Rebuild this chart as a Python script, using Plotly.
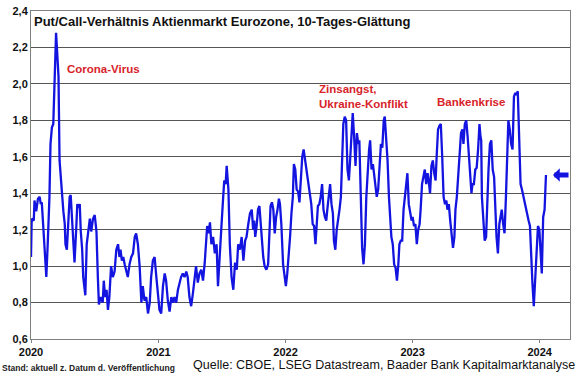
import plotly.graph_objects as go

# ---- data ----
dates = [
    "2020-01-01","2020-01-03","2020-01-09","2020-01-11","2020-01-16","2020-01-21","2020-01-26","2020-01-29",
    "2020-02-01","2020-02-04","2020-02-09","2020-02-14","2020-02-18","2020-02-23","2020-02-26",
    "2020-03-01","2020-03-05","2020-03-09","2020-03-13","2020-03-16","2020-03-20","2020-03-23","2020-03-28","2020-03-30",
    "2020-04-03","2020-04-07","2020-04-09","2020-04-13","2020-04-16","2020-04-21","2020-04-24","2020-04-28",
    "2020-05-01","2020-05-05","2020-05-10","2020-05-13","2020-05-17","2020-05-20","2020-05-23","2020-05-27","2020-05-30",
    "2020-06-05","2020-06-09","2020-06-15","2020-06-18","2020-06-22","2020-06-27",
    "2020-07-02","2020-07-07","2020-07-11","2020-07-14","2020-07-19","2020-07-25","2020-07-28",
    "2020-08-01","2020-08-05","2020-08-09","2020-08-13","2020-08-18","2020-08-23","2020-08-28",
    "2020-09-02","2020-09-07","2020-09-11","2020-09-14","2020-09-18","2020-09-22","2020-09-26",
    "2020-10-01","2020-10-05","2020-10-10","2020-10-15","2020-10-20","2020-10-25","2020-10-29",
    "2020-11-03","2020-11-08","2020-11-13","2020-11-17","2020-11-22","2020-11-27",
    "2020-12-02","2020-12-07","2020-12-11","2020-12-16","2020-12-21","2020-12-26","2020-12-31",
    "2021-01-04","2021-01-09","2021-01-14","2021-01-19","2021-01-23","2021-01-28",
    "2021-02-02","2021-02-07","2021-02-12","2021-02-16","2021-02-21","2021-02-26",
    "2021-03-03","2021-03-07","2021-03-12","2021-03-17","2021-03-22","2021-03-26","2021-03-31",
    "2021-04-05","2021-04-10","2021-04-15","2021-04-19","2021-04-24","2021-04-29",
    "2021-05-04","2021-05-09","2021-05-14","2021-05-18","2021-05-21","2021-05-25","2021-05-29",
    "2021-06-02","2021-06-07","2021-06-12","2021-06-17","2021-06-21","2021-06-26",
    "2021-07-01","2021-07-06","2021-07-09","2021-07-13","2021-07-16","2021-07-21","2021-07-25","2021-07-30",
    "2021-08-04","2021-08-09","2021-08-14","2021-08-18","2021-08-23","2021-08-28",
    "2021-09-02","2021-09-07","2021-09-11","2021-09-16","2021-09-21","2021-09-26","2021-09-30",
    "2021-10-03","2021-10-06","2021-10-10","2021-10-14","2021-10-18","2021-10-22","2021-10-26","2021-10-29",
    "2021-11-02","2021-11-07","2021-11-12","2021-11-16","2021-11-19","2021-11-23","2021-11-27",
    "2021-12-01","2021-12-05","2021-12-09","2021-12-13","2021-12-16","2021-12-20","2021-12-25","2021-12-30",
    "2022-01-02","2022-01-06","2022-01-10","2022-01-14","2022-01-18","2022-01-22","2022-01-25","2022-01-29",
    "2022-02-02","2022-02-06","2022-02-10","2022-02-14","2022-02-18","2022-02-22","2022-02-25",
    "2022-03-01","2022-03-05","2022-03-09","2022-03-13","2022-03-16","2022-03-20","2022-03-24","2022-03-28",
    "2022-04-01","2022-04-04","2022-04-08","2022-04-12","2022-04-16","2022-04-20","2022-04-24","2022-04-28",
    "2022-05-01","2022-05-05","2022-05-09","2022-05-13","2022-05-17","2022-05-20","2022-05-24","2022-05-28",
    "2022-06-01","2022-06-05","2022-06-09","2022-06-13","2022-06-16","2022-06-20","2022-06-24","2022-06-28",
    "2022-07-02","2022-07-06","2022-07-10","2022-07-13","2022-07-17","2022-07-21","2022-07-25","2022-07-29",
    "2022-08-01","2022-08-05","2022-08-09","2022-08-13","2022-08-17","2022-08-21","2022-08-25","2022-08-29",
    "2022-09-01","2022-09-05","2022-09-09","2022-09-13","2022-09-17","2022-09-20","2022-09-24","2022-09-28",
    "2022-10-02","2022-10-06","2022-10-10","2022-10-13","2022-10-17","2022-10-21","2022-10-25","2022-10-29",
    "2022-11-01","2022-11-05","2022-11-09","2022-11-13","2022-11-17","2022-11-21","2022-11-24","2022-11-28",
    "2022-12-02","2022-12-06","2022-12-10","2022-12-14","2022-12-17","2022-12-21","2022-12-25","2022-12-29",
    "2023-01-01","2023-01-05","2023-01-09","2023-01-13","2023-01-17","2023-01-21","2023-01-24","2023-01-28",
    "2023-02-01","2023-02-05","2023-02-09","2023-02-13","2023-02-16","2023-02-20","2023-02-24","2023-02-28",
    "2023-03-04","2023-03-08","2023-03-11","2023-03-15","2023-03-19","2023-03-23","2023-03-27","2023-03-31",
    "2023-04-04","2023-04-08","2023-04-11","2023-04-15","2023-04-19","2023-04-23","2023-04-27",
    "2023-05-01","2023-05-04","2023-05-08","2023-05-12","2023-05-16","2023-05-20","2023-05-24","2023-05-27","2023-05-31",
    "2023-06-04","2023-06-08","2023-06-12","2023-06-15","2023-06-19","2023-06-22","2023-06-26","2023-06-30",
    "2023-07-04","2023-07-08","2023-07-12","2023-07-15","2023-07-17","2023-07-19","2023-07-23","2023-07-27","2023-07-31",
    "2023-08-03","2023-08-07","2023-08-11","2023-08-15","2023-08-19","2023-08-23","2023-08-30",
    "2023-09-03","2023-09-07","2023-09-11","2023-09-14","2023-09-18","2023-09-22","2023-09-26","2023-09-30",
    "2023-10-03","2023-10-07","2023-10-11","2023-10-15","2023-10-19","2023-10-23","2023-10-26","2023-10-30",
    "2023-11-03","2023-11-07","2023-11-11","2023-11-15","2023-11-19","2023-11-22","2023-11-26","2023-11-30",
    "2023-12-04","2023-12-08","2023-12-11","2023-12-15","2023-12-19","2023-12-23","2023-12-27","2023-12-31",
    "2024-01-03","2024-01-07","2024-01-11","2024-01-15","2024-01-19",
]
put_call = [
    1.05,1.26,1.25,1.36,1.30,1.37,1.38,1.34,
    1.35,1.24,1.09,0.94,1.12,1.38,1.67,
    1.76,1.78,2.11,2.28,2.18,2.04,1.58,1.45,1.36,
    1.30,1.23,1.12,1.09,1.23,1.38,1.39,1.27,
    1.12,1.02,1.21,1.34,1.32,1.34,1.19,1.09,0.94,
    0.84,1.12,1.23,1.26,1.19,1.26,
    1.28,1.19,0.94,0.79,0.83,0.80,0.92,
    0.83,0.87,0.76,0.83,1.00,0.94,0.97,
    1.09,1.12,1.05,1.09,1.03,1.05,1.01,
    0.97,0.94,1.01,1.05,1.07,1.16,1.18,
    1.12,1.00,0.80,0.89,0.81,0.83,
    0.74,0.80,0.94,1.03,1.05,0.94,0.81,
    0.76,0.74,0.89,0.96,0.92,0.81,
    0.75,0.83,0.80,0.83,0.80,0.87,
    0.91,0.94,0.96,0.94,0.97,0.94,0.83,
    0.78,0.85,0.94,1.00,0.91,0.96,
    0.98,0.92,1.02,1.12,1.22,1.18,1.24,
    1.12,1.16,1.07,1.12,0.89,1.09,
    1.22,1.38,1.47,1.45,1.55,1.42,1.12,0.94,
    0.87,1.02,0.98,1.12,1.09,1.16,
    1.03,1.14,1.16,1.23,1.29,1.31,1.20,
    1.25,1.16,1.22,1.31,1.33,1.23,1.12,1.05,
    1.00,0.98,1.01,1.22,1.33,1.35,1.31,
    1.18,1.27,1.31,1.37,1.34,1.23,1.01,0.94,
    0.89,0.96,1.05,1.16,1.29,1.38,1.56,1.53,
    1.42,1.41,1.35,1.45,1.60,1.64,1.60,
    1.53,1.49,1.42,1.36,1.34,1.23,1.22,1.12,
    1.23,1.33,1.34,1.38,1.45,1.31,1.27,1.25,
    1.31,1.38,1.45,1.34,1.29,1.14,1.09,1.20,
    1.25,1.31,1.38,1.64,1.78,1.82,1.80,1.53,
    1.47,1.60,1.78,1.84,1.71,1.55,1.73,1.67,
    1.69,1.40,1.10,1.01,1.12,1.38,1.55,1.64,
    1.69,1.53,1.56,1.49,1.45,1.38,1.42,1.53,
    1.67,1.65,1.80,1.82,1.71,1.58,1.38,1.20,
    1.16,1.12,1.01,0.99,0.92,1.01,1.12,1.14,
    1.14,1.31,1.38,1.47,1.51,1.34,1.29,1.25,
    1.27,1.22,1.23,1.12,1.20,1.23,1.31,1.45,
    1.49,1.53,1.45,1.51,1.47,1.40,1.55,1.58,
    1.51,1.47,1.60,1.75,1.77,1.78,1.60,1.38,
    1.34,1.36,1.31,1.34,1.25,1.16,1.10,
    1.16,1.31,1.38,1.51,1.64,1.73,1.75,1.67,1.78,
    1.80,1.71,1.60,1.53,1.40,1.45,1.45,1.53,
    1.54,1.64,1.78,1.71,1.69,1.38,1.23,1.14,1.16,
    1.38,1.53,1.67,1.69,1.53,1.49,1.16,
    1.07,1.23,1.29,1.31,1.23,1.18,1.38,1.64,
    1.80,1.75,1.67,1.64,1.93,1.95,1.94,1.96,
    1.67,1.45,1.42,1.38,1.34,1.31,1.27,1.25,
    1.22,1.01,0.91,0.78,0.94,1.12,1.22,1.20,
    1.09,0.96,1.27,1.31,1.50,
]
year_ticks = ["2020-01-01", "2021-01-01", "2022-01-01", "2023-01-01", "2024-01-01"]
year_labels = ["2020", "2021", "2022", "2023", "2024"]
y_ticks = [0.6, 0.8, 1.0, 1.2, 1.4, 1.6, 1.8, 2.0, 2.2, 2.4]
current_value = 1.5

FONT = "Arial, Liberation Sans, sans-serif"
RED = "#d8232a"
BLUE = "#1414e0"

fig = go.Figure()
fig.add_trace(go.Scatter(x=dates, y=put_call, mode="lines",
                         line=dict(color=BLUE, width=2.3), hoverinfo="skip",
                         showlegend=False))

fig.update_layout(
    width=580, height=375,
    margin=dict(l=31, r=10, t=11, b=36, autoexpand=False),
    paper_bgcolor="white", plot_bgcolor="white",
    separators=",.",
    font=dict(family=FONT, color="#1a1a1a"),
    xaxis=dict(
        type="date", range=["2020-01-01", "2024-03-28"], automargin=False,
        tickvals=year_ticks, ticktext=year_labels,
        showgrid=False, showline=True, linecolor="#808080", linewidth=1,
        mirror=True, ticks="outside", ticklen=3, tickcolor="#808080",
        tickfont=dict(size=11, family=FONT, color="#111111", weight="bold"),
        zeroline=False,
    ),
    yaxis=dict(
        range=[0.6, 2.4], tickvals=y_ticks, tickformat=".1f", automargin=False,
        showgrid=True, gridcolor="#555555", gridwidth=1,
        showline=True, linecolor="#808080", linewidth=1, mirror=True,
        ticks="", tickfont=dict(size=11, family=FONT, color="#111111", weight="bold"),
        zeroline=False,
    ),
)

annotations = [
    dict(text="Put/Call-Verhältnis Aktienmarkt Eurozone, 10-Tages-Glättung",
         xref="paper", yref="paper", x=0.002, y=0.997, xanchor="left", yanchor="top",
         showarrow=False, font=dict(size=13, family=FONT, color="#111111", weight="bold"),
         bgcolor="white"),
    dict(text="Corona-Virus", xref="paper", yref="y", x=0.063, y=2.08,
         xanchor="left", yanchor="middle", showarrow=False,
         font=dict(size=11.5, family=FONT, color=RED, weight="bold")),
    dict(text="Zinsangst,<br>Ukraine-Konflikt", xref="paper", yref="y", x=0.53, y=1.93,
         xanchor="left", yanchor="middle", showarrow=False, align="left",
         font=dict(size=11.5, family=FONT, color=RED, weight="bold")),
    dict(text="Bankenkrise", xref="paper", yref="y", x=0.75, y=1.90,
         xanchor="left", yanchor="middle", showarrow=False,
         font=dict(size=11.5, family=FONT, color=RED, weight="bold")),
    dict(text="", xref="paper", yref="y", x=0.9685, y=current_value,
         ax=17, ay=0, showarrow=True, arrowhead=1, arrowsize=0.45,
         arrowwidth=5, arrowcolor=BLUE, standoff=0),
    dict(text="Stand: aktuell z. Datum d. Veröffentlichung",
         xref="paper", yref="paper", x=-0.057, y=-0.088, xanchor="left", yanchor="middle",
         showarrow=False, font=dict(size=8.5, family=FONT, color="#222222", weight="bold")),
    dict(text="Quelle: CBOE, LSEG Datastream, Baader Bank Kapitalmarktanalyse",
         xref="paper", yref="paper", x=1.013, y=-0.078, xanchor="right", yanchor="middle",
         showarrow=False, font=dict(size=12.5, family=FONT, color="#111111")),
]
fig.update_layout(annotations=annotations)

fig.write_html("out.html", config={"displayModeBar": False},
               post_script="document.body.style.margin='0';document.body.style.padding='0';")
